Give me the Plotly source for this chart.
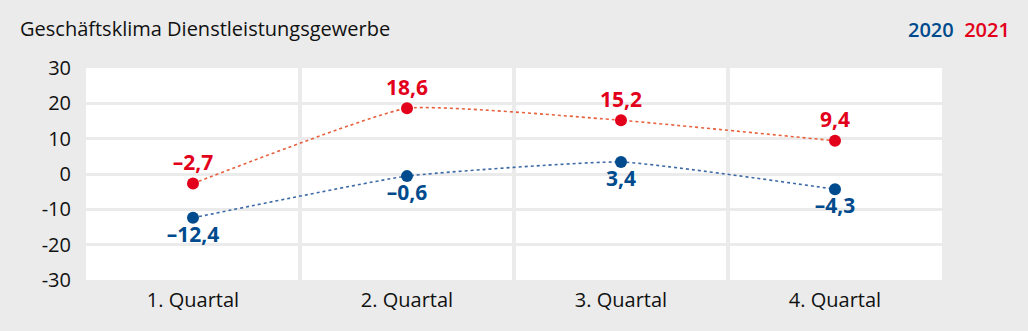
import plotly.graph_objects as go

categories = ["1. Quartal", "2. Quartal", "3. Quartal", "4. Quartal"]
values_2020 = [-12.4, -0.6, 3.4, -4.3]
values_2021 = [-2.7, 18.6, 15.2, 9.4]
y_ticks = [-30, -20, -10, 0, 10, 20, 30]

RED = "#e2001a"
BLUE = "#004b8d"
GREY = "#ebebeb"
FONT = "Open Sans"

def fmt(v):
    s = f"{abs(v):.1f}".replace(".", ",")
    return ("\u2013" if v < 0 else "") + s

fig = go.Figure()
fig.add_trace(go.Scatter(
    x=categories, y=values_2021, mode="lines+markers+text",
    line=dict(color="#e8603c", width=1.6, dash="dot", shape="spline", smoothing=0.4),
    marker=dict(color=RED, size=12),
    text=[fmt(v) for v in values_2021], textposition="top center",
    textfont=dict(color=RED, size=21, family=FONT, weight="bold"),
    name="2021", showlegend=False, cliponaxis=False))
fig.add_trace(go.Scatter(
    x=categories, y=values_2020, mode="lines+markers+text",
    line=dict(color="#3d6aa5", width=1.6, dash="dot", shape="spline", smoothing=0.4),
    marker=dict(color=BLUE, size=12),
    text=[fmt(v) for v in values_2020], textposition="bottom center",
    textfont=dict(color=BLUE, size=21, family=FONT, weight="bold"),
    name="2020", showlegend=False, cliponaxis=False))

W, H = 1028, 331
l, r, t, b = 86, 86, 68, 51
pw, ph = W - l - r, H - t - b

def px_to_paper(px, py):
    return (px - l) / pw, (H - b - py) / ph

tx, ty = px_to_paper(18, 28)
lx, ly = px_to_paper(1012, 30)

fig.update_layout(
    width=W, height=H,
    margin=dict(l=l, r=r, t=t, b=b),
    paper_bgcolor=GREY, plot_bgcolor="white",
    font=dict(family=FONT, color="#111111"),
    xaxis=dict(type="category", range=[-0.5, 3.5], tickson="boundaries",
               showgrid=True, gridcolor=GREY, gridwidth=4, ticks="",
               showline=False, zeroline=False, ticklabelstandoff=6,
               tickfont=dict(size=20, color="#111111"), ticklen=0),
    yaxis=dict(range=[-30, 30], tickvals=y_ticks,
               ticktext=[("-" if tv < 0 else "") + str(abs(tv)) for tv in y_ticks],
               showgrid=True, gridcolor=GREY, gridwidth=3, zeroline=False,
               showline=False, ticks="", ticklabelstandoff=14,
               tickfont=dict(size=20, color="#111111")),
    annotations=[
        dict(text="Geschäftsklima Dienstleistungsgewerbe", x=tx, y=ty, xref="paper", yref="paper",
             showarrow=False, xanchor="left", yanchor="middle",
             font=dict(size=20, color="#111111", family=FONT)),
        dict(text=f"<span style='color:{BLUE}'>2020</span>  <span style='color:{RED}'>2021</span>",
             x=lx, y=ly, xref="paper", yref="paper", showarrow=False,
             xanchor="right", yanchor="middle",
             font=dict(size=20, family=FONT, weight=600)),
    ],
)

fig.write_html("out.html")
